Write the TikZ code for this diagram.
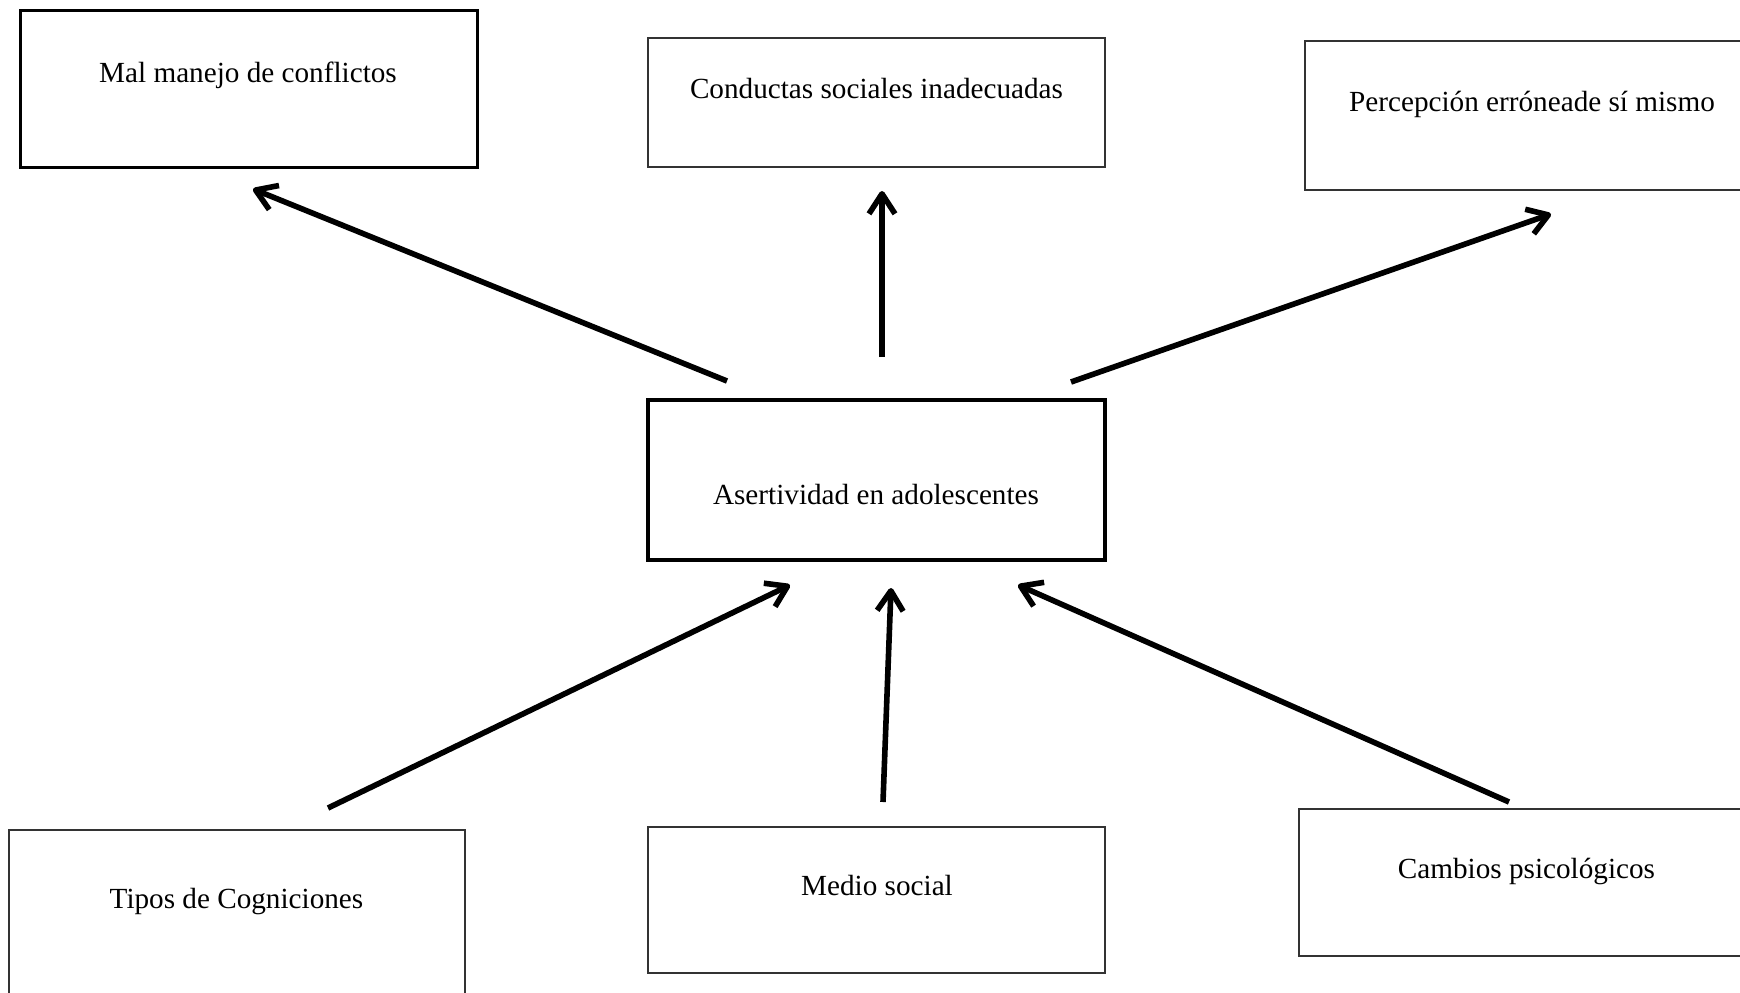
\documentclass[tikz,border=0pt]{standalone}
\usepackage{fontspec}
\setmainfont{Liberation Serif}
\usetikzlibrary{arrows.meta}
\begin{document}
\begin{tikzpicture}[x=0.5pt,y=-0.5pt,
  thickbox/.style={draw=black,line width=1.5pt,inner sep=0pt,outer sep=0pt},
  thinbox/.style={draw=black!80,line width=0.6pt,inner sep=0pt,outer sep=0pt},
  centerbox/.style={draw=black,line width=2.2pt,inner sep=0pt,outer sep=0pt},
  lbl/.style={anchor=base,inner sep=0pt,font=\fontsize{14.6pt}{17pt}\selectfont},
  conn/.style={line width=2.8pt,line join=round,-{Straight Barb[length=10pt,width=13pt,line join=round]}}]
\useasboundingbox (0,0) rectangle (1740,992);
% boxes
\node[thickbox,minimum width=228.5pt,minimum height=78.5pt] (b1) at (248.5,88.5) {};
\node[thinbox,minimum width=228.5pt,minimum height=64.5pt] (b2) at (876.5,102.5) {};
\node[thinbox,minimum width=227pt,minimum height=74.5pt] (b3) at (1532,115.5) {};
\node[centerbox,minimum width=228.5pt,minimum height=80pt] (c) at (876.5,480) {};
\node[thinbox,minimum width=228pt,minimum height=85pt] (b5) at (237,915) {};
\node[thinbox,minimum width=228.5pt,minimum height=73pt] (b6) at (876.5,900) {};
\node[thinbox,minimum width=227.5pt,minimum height=73.5pt] (b7) at (1526.5,882.5) {};
% labels
\node[lbl] (t1) at (248,82) {Mal manejo de conflictos};
\node[lbl] (t2) at (876.5,98) {Conductas sociales inadecuadas};
\node[lbl] (t3) at (1532,111) {Percepción erróneade sí mismo};
\node[lbl] (tc) at (876,504) {Asertividad en adolescentes};
\node[lbl] (t5) at (236.5,908) {Tipos de Cogniciones};
\node[lbl] (t6) at (877,895) {Medio social};
\node[lbl] (t7) at (1526.5,878) {Cambios psicológicos};
% connector ends
\coordinate (a1s) at (727,381); \coordinate (a1e) at (253,189);
\coordinate (a2s) at (882,357); \coordinate (a2e) at (882,191);
\coordinate (a3s) at (1071,382); \coordinate (a3e) at (1551,214);
\coordinate (a4s) at (328,808); \coordinate (a4e) at (790,585);
\coordinate (a5s) at (883,802); \coordinate (a5e) at (891,588);
\coordinate (a6s) at (1509,802); \coordinate (a6e) at (1018,585);
\draw[conn] (a1s) -- (a1e);
\draw[conn] (a2s) -- (a2e);
\draw[conn] (a3s) -- (a3e);
\draw[conn] (a4s) -- (a4e);
\draw[conn] (a5s) -- (a5e);
\draw[conn] (a6s) -- (a6e);
\end{tikzpicture}
\end{document}
